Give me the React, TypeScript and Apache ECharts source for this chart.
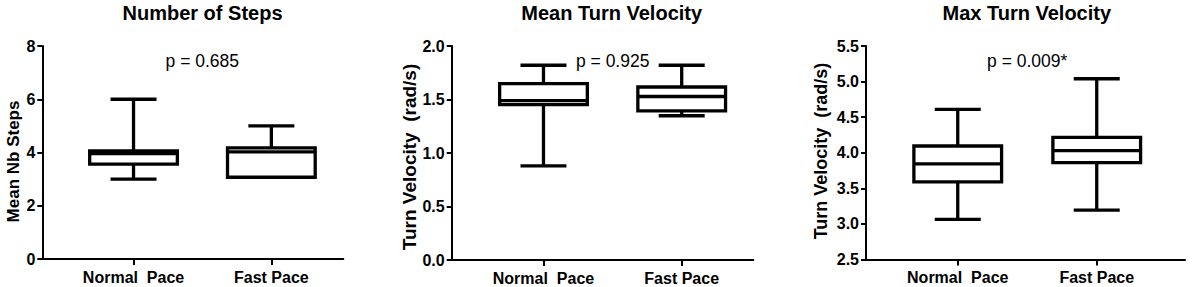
import React, { useEffect, useRef } from "react";
import * as echarts from "echarts";

const categories = ["Normal  Pace", "Fast Pace"];
const categoryPositions = [1, 2];
const titles = ["Number of Steps", "Mean Turn Velocity", "Max Turn Velocity"];
const yNames = ["Mean Nb Steps", "Turn Velocity  (rad/s)", "Turn Velocity  (rad/s)"];
const pValues = ["p = 0.685", "p = 0.925", "p = 0.009*"];

// [min, Q1, median, Q3, max]
const stepsNormal = [3.0, 3.56, 3.96, 4.06, 6.0];
const stepsFast = [3.07, 3.07, 4.02, 4.17, 5.0];
const meanTurnNormal = [0.88, 1.453, 1.49, 1.648, 1.82];
const meanTurnFast = [1.348, 1.394, 1.528, 1.617, 1.82];
const maxTurnNormal = [3.065, 3.59, 3.845, 4.095, 4.61];
const maxTurnFast = [3.195, 3.86, 4.03, 4.217, 5.04];

const panelData = [
  [stepsNormal, stepsFast],
  [meanTurnNormal, meanTurnFast],
  [maxTurnNormal, maxTurnFast],
];

const yMin = [0, 0, 2.5];
const yMax = [8, 2.0, 5.5];
const yInterval = [2, 0.5, 0.5];
const yDecimals = [0, 1, 1];

const xMin = [0.338, 0.336, 0.34];
const xMax = [2.522, 2.518, 2.635];

const grids = [
  { left: 42.3, top: 46, width: 301, height: 213 },
  { left: 451.7, top: 46, width: 301.6, height: 214 },
  { left: 866, top: 46, width: 319, height: 213.5 },
];

const titlePos = [
  [202.5, 12.5],
  [611.7, 12.5],
  [1026.8, 12.5],
];
const pPos = [
  [202.3, 61],
  [612.7, 60.5],
  [1027.2, 61],
];
const yNamePos = [
  [13.5, 161.5, 17],
  [409, 157, 19],
  [820.5, 151, 18],
];

const FONT = '"Liberation Sans", Arial, Helvetica, sans-serif';
const LW = 3.3;
const BOX_W = 87.7;
const CAP_W = 46;

function renderBox(params: any, api: any) {
  const x = api.value(0);
  const mn = api.value(1);
  const q1 = api.value(2);
  const md = api.value(3);
  const q3 = api.value(4);
  const mx = api.value(5);
  const pMin = api.coord([x, mn]);
  const pQ1 = api.coord([x, q1]);
  const pMd = api.coord([x, md]);
  const pQ3 = api.coord([x, q3]);
  const pMax = api.coord([x, mx]);
  const cx = pMin[0];
  const half = BOX_W / 2;
  const capHalf = CAP_W / 2;
  const ls = { stroke: "#000", lineWidth: LW, lineCap: "butt" };
  const children: any[] = [
    { type: "line", shape: { x1: cx, y1: pQ3[1], x2: cx, y2: pMax[1] }, style: ls },
    { type: "line", shape: { x1: cx, y1: pQ1[1], x2: cx, y2: pMin[1] }, style: ls },
    { type: "line", shape: { x1: cx - capHalf, y1: pMax[1], x2: cx + capHalf, y2: pMax[1] }, style: ls },
  ];
  if (Math.abs(pMin[1] - pQ1[1]) > 0.5) {
    children.push({
      type: "line",
      shape: { x1: cx - capHalf, y1: pMin[1], x2: cx + capHalf, y2: pMin[1] },
      style: ls,
    });
  }
  children.push({
    type: "rect",
    shape: { x: cx - half, y: pQ3[1], width: BOX_W, height: pQ1[1] - pQ3[1] },
    style: { fill: "#fff", stroke: "#000", lineWidth: LW, lineJoin: "miter" },
  });
  children.push({
    type: "line",
    shape: { x1: cx - half, y1: pMd[1], x2: cx + half, y2: pMd[1] },
    style: ls,
  });
  return { type: "group", children };
}

export default function App() {
  const ref = useRef<HTMLDivElement>(null);

  useEffect(() => {
    if (!ref.current) return;
    const chart = echarts.init(ref.current, undefined, { renderer: "svg" });

    const graphic: any[] = [];
    titles.forEach((t, i) => {
      graphic.push({
        type: "text",
        x: titlePos[i][0],
        y: titlePos[i][1],
        style: {
          text: t,
          font: `bold 20px ${FONT}`,
          fill: "#000",
          align: "center",
          verticalAlign: "middle",
          textAlign: "center",
          textVerticalAlign: "middle",
        },
      });
    });
    pValues.forEach((t, i) => {
      graphic.push({
        type: "text",
        x: pPos[i][0],
        y: pPos[i][1],
        style: {
          text: t,
          font: `17.5px ${FONT}`,
          fill: "#000",
          align: "center",
          verticalAlign: "middle",
          textAlign: "center",
          textVerticalAlign: "middle",
        },
      });
    });
    yNames.forEach((t, i) => {
      graphic.push({
        type: "text",
        x: yNamePos[i][0],
        y: yNamePos[i][1],
        rotation: Math.PI / 2,
        style: {
          text: t,
          font: `bold ${yNamePos[i][2]}px ${FONT}`,
          fill: "#000",
          align: "center",
          verticalAlign: "middle",
          textAlign: "center",
          textVerticalAlign: "middle",
        },
      });
    });

    const option: any = {
      animation: false,
      backgroundColor: "#fff",
      grid: grids.map((g) => ({ ...g, containLabel: false })),
      xAxis: grids.map((_, i) => ({
        type: "value",
        gridIndex: i,
        min: xMin[i],
        max: xMax[i],
        splitLine: { show: false },
        axisLine: { show: true, lineStyle: { color: "#000", width: 2 } },
        axisTick: {
          show: true,
          customValues: categoryPositions,
          length: 6,
          lineStyle: { color: "#000", width: 2 },
        },
        axisLabel: {
          show: true,
          customValues: categoryPositions,
          margin: 10,
          color: "#000",
          fontWeight: "bold",
          fontSize: 16,
          fontFamily: FONT,
          formatter: (v: number) => categories[Math.round(v) - 1] ?? "",
        },
      })),
      yAxis: grids.map((_, i) => ({
        type: "value",
        gridIndex: i,
        min: yMin[i],
        max: yMax[i],
        interval: yInterval[i],
        splitLine: { show: false },
        axisLine: { show: true, lineStyle: { color: "#000", width: 2 } },
        axisTick: { show: true, length: 5, lineStyle: { color: "#000", width: 2 } },
        axisLabel: {
          margin: 7,
          color: "#000",
          fontWeight: "bold",
          fontSize: 16,
          fontFamily: FONT,
          formatter: (v: number) => v.toFixed(yDecimals[i]),
        },
      })),
      series: panelData.map((pd, i) => ({
        type: "custom",
        xAxisIndex: i,
        yAxisIndex: i,
        renderItem: renderBox,
        encode: { x: 0, y: [1, 2, 3, 4, 5] },
        data: pd.map((vals, k) => [categoryPositions[k], ...vals]),
        clip: false,
      })),
      graphic,
    };

    chart.setOption(option);
    return () => chart.dispose();
  }, []);

  return (
    <div
      ref={ref}
      style={{ position: "absolute", left: 0, top: 0, width: 1192, height: 287, background: "#fff" }}
    />
  );
}
